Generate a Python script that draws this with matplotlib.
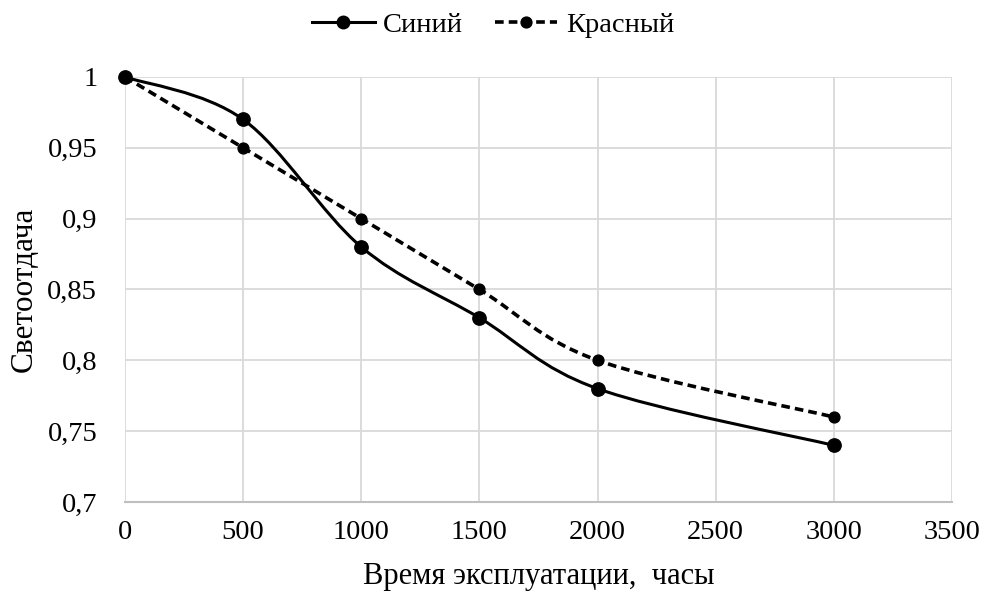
import numpy as np
import matplotlib
matplotlib.use("Agg")
import matplotlib.pyplot as plt
from matplotlib.path import Path
from matplotlib.patches import PathPatch

hours = [0, 500, 1000, 1500, 2000, 3000]
blue = [1.0, 0.97, 0.88, 0.83, 0.78, 0.74]
red = [1.0, 0.95, 0.90, 0.85, 0.80, 0.76]
series_names = ["Синий", "Красный"]
xticks = [0, 500, 1000, 1500, 2000, 2500, 3000, 3500]
yticks = [0.7, 0.75, 0.8, 0.85, 0.9, 0.95, 1.0]

plt.rcParams['font.family'] = ['Liberation Serif', 'DejaVu Serif']

fig = plt.figure(figsize=(9.86, 5.92), dpi=100)
ax = fig.add_axes([0.1268, 0.152, 0.8387, 0.718])
ax.set_xlim(0, 3500)
ax.set_ylim(0.7, 1.0)

def smooth_path(ax, xs, ys):
    # Excel-style smoothed line: cubic Bezier through points, built in display space
    trans = ax.transData
    pts = trans.transform(np.column_stack([xs, ys]))
    n = len(pts)
    verts = [pts[0]]
    codes = [Path.MOVETO]
    for i in range(n - 1):
        p0 = pts[i - 1] if i > 0 else pts[i]
        p1 = pts[i]
        p2 = pts[i + 1]
        p3 = pts[i + 2] if i + 2 < n else pts[i + 1]
        c1 = p1 + (p2 - p0) / 6.0
        c2 = p2 - (p3 - p1) / 6.0
        verts += [c1, c2, p2]
        codes += [Path.CURVE4] * 3
    inv = trans.inverted()
    return Path(inv.transform(np.array(verts)), codes)

lw_solid = 2.2
lw_dash = 2.6
dash = (0, (2.4, 1.4))
styles = [(red, dash, lw_dash, 7.8), (blue, '-', lw_solid, 9.6)]
for ys, ls, lw, ms in styles:
    p = smooth_path(ax, hours, ys)
    patch = PathPatch(p, facecolor='none', edgecolor='black', lw=lw, linestyle=ls,
                      capstyle='butt', zorder=3, clip_on=False)
    ax.add_patch(patch)
    ax.plot(hours, ys, linestyle='none', marker='o', color='black', markersize=ms,
            zorder=4, clip_on=False)

# legend handles
h1, = ax.plot([], [], color='black', lw=lw_solid, linestyle='-', marker='o', markersize=9)
h2, = ax.plot([], [], color='black', lw=lw_dash, linestyle=dash, marker='o', markersize=7.8)
fig.legend([h1, h2], series_names, loc='center', bbox_to_anchor=(0.5, 0.957), ncol=2,
           frameon=False, fontsize=20.5, handlelength=2.2, handletextpad=0.3, columnspacing=1.1)

ax.set_xticks(xticks)
ax.set_yticks(yticks)
ax.set_xticklabels([str(v) for v in xticks])
ax.set_yticklabels([("%g" % v).replace('.', ',') for v in yticks])
ax.tick_params(axis='both', length=0, labelsize=20.5, colors='black')
ax.tick_params(axis='x', pad=13)
ax.tick_params(axis='y', pad=20)
ax.grid(True, color='#d9d9d9', lw=1.3)
ax.set_axisbelow(True)
for s in ['top', 'right', 'left']:
    ax.spines[s].set_visible(False)
ax.spines['bottom'].set_color('#bfbfbf')
ax.spines['bottom'].set_linewidth(1.5)

ax.set_xlabel("Время эксплуатации,  часы", fontsize=22, labelpad=12)
ax.set_ylabel("Светоотдача", fontsize=22.5, labelpad=6)

fig.savefig("out.png", dpi=100)
